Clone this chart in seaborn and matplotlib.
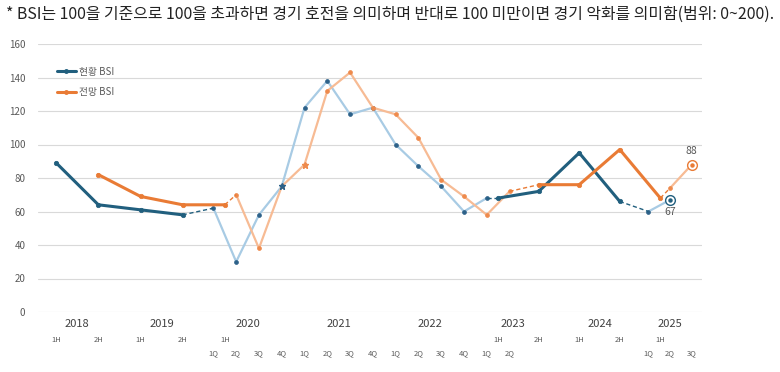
import matplotlib
matplotlib.use("Agg")
import matplotlib.pyplot as plt
import matplotlib.transforms as mtransforms
from matplotlib.lines import Line2D
import seaborn as sns

# ---- periods on the x axis ----
half_a = ['2018 1H', '2018 2H', '2019 1H', '2019 2H', '2020 1H']
quarters_a = ['2020 1Q', '2020 2Q', '2020 3Q', '2020 4Q',
              '2021 1Q', '2021 2Q', '2021 3Q', '2021 4Q',
              '2022 1Q', '2022 2Q', '2022 3Q', '2022 4Q',
              '2023 1Q', '2023 2Q']
half_b = ['2023 1H', '2023 2H', '2024 1H', '2024 2H', '2025 1H']
quarters_b = ['2025 1Q', '2025 2Q', '2025 3Q']
years = ['2018', '2019', '2020', '2021', '2022', '2023', '2024', '2025']

# ---- 현황 BSI (current) ----
cur_half_a_p = half_a[:4]
cur_half_a = [89, 64, 61, 58]
cur_qtr_a_p = quarters_a[:13]
cur_qtr_a = [62, 30, 58, 75, 122, 138, 118, 122, 100, 87, 75, 60, 68]
cur_half_b_p = half_b[:4]
cur_half_b = [68, 72, 95, 66]
cur_qtr_b_p = quarters_b[:2]
cur_qtr_b = [60, 67]

# ---- 전망 BSI (outlook) ----
exp_half_a_p = half_a[1:]
exp_half_a = [82, 69, 64, 64]
exp_qtr_a_p = quarters_a[1:]
exp_qtr_a = [70, 38, 75, 88, 132, 143, 122, 118, 104, 79, 69, 58, 72]
exp_half_b_p = half_b[1:]
exp_half_b = [76, 76, 97, 68]
exp_qtr_b_p = quarters_b[1:]
exp_qtr_b = [74, 88]

TEAL = '#215f7e'
ORANGE = '#e97b35'
LIGHT_BLUE = '#a8cbe4'
LIGHT_ORANGE = '#f7bb94'
GREY = '#595959'

# x layout: quarters are 1 unit apart, halves a bit less than 2
pos = {}
for i, p in enumerate(reversed(half_a)):
    pos[p] = 0.5 - 1.85 * i
for i, p in enumerate(quarters_a):
    pos[p] = float(i)
for i, p in enumerate(half_b):
    pos[p] = 12.5 + 1.78 * i
for i, p in enumerate(quarters_b):
    pos[p] = 19.1 + 0.95 * i


def xs(periods):
    return [pos[p] for p in periods]


def draw(ax, periods, values, color, lw, mcolor=None, ms=3.2, z=3):
    mcolor = mcolor or color
    sns.lineplot(x=xs(periods), y=values, ax=ax, color=color, linewidth=lw,
                 marker='o', markersize=ms, markerfacecolor=mcolor,
                 markeredgecolor=mcolor, markeredgewidth=0.5,
                 sort=False, legend=False, zorder=z)


def bridge(ax, p0, v0, p1, v1, color):
    sns.lineplot(x=[pos[p0], pos[p1]], y=[v0, v1], ax=ax, color=color,
                 linewidth=1.0, linestyle=(0, (3, 2)), sort=False,
                 legend=False, zorder=2)


sns.set_style("white")
plt.rcParams['font.family'] = ['Noto Sans CJK KR', 'DejaVu Sans']

fig = plt.figure(figsize=(7.8, 3.72), dpi=100)
ax = fig.add_axes([38 / 780, 60 / 372, 664 / 780, 268 / 372])

# light quarterly lines first
draw(ax, cur_qtr_a_p, cur_qtr_a, LIGHT_BLUE, 1.6, mcolor='#2d6189', ms=2.8, z=2)
draw(ax, exp_qtr_a_p, exp_qtr_a, LIGHT_ORANGE, 1.6, mcolor='#ee8a4c', ms=2.8, z=2)
draw(ax, cur_qtr_b_p, cur_qtr_b, LIGHT_BLUE, 1.6, mcolor='#2d6189', ms=2.8, z=2)
draw(ax, exp_qtr_b_p, exp_qtr_b, LIGHT_ORANGE, 1.6, mcolor='#ee8a4c', ms=2.8, z=2)

# thick half-year lines
draw(ax, cur_half_a_p, cur_half_a, TEAL, 2.2)
draw(ax, exp_half_a_p, exp_half_a, ORANGE, 2.2)
draw(ax, cur_half_b_p, cur_half_b, TEAL, 2.2)
draw(ax, exp_half_b_p, exp_half_b, ORANGE, 2.2)

# dashed joins between half-year and quarterly series
bridge(ax, cur_half_a_p[-1], cur_half_a[-1], cur_qtr_a_p[0], cur_qtr_a[0], TEAL)
bridge(ax, cur_qtr_a_p[-1], cur_qtr_a[-1], cur_half_b_p[0], cur_half_b[0], TEAL)
bridge(ax, cur_half_b_p[-1], cur_half_b[-1], cur_qtr_b_p[0], cur_qtr_b[0], TEAL)
bridge(ax, exp_half_a_p[-1], exp_half_a[-1], exp_qtr_a_p[0], exp_qtr_a[0], ORANGE)
bridge(ax, exp_qtr_a_p[-1], exp_qtr_a[-1], exp_half_b_p[0], exp_half_b[0], ORANGE)
bridge(ax, exp_half_b_p[-1], exp_half_b[-1], exp_qtr_b_p[0], exp_qtr_b[0], ORANGE)

# star markers
ax.plot(pos['2020 4Q'], cur_qtr_a[3], marker='*', ms=5, color='#2d6189', zorder=4)
ax.plot(pos['2021 1Q'], exp_qtr_a[3], marker='*', ms=5, color='#ee8a4c', zorder=4)

# latest points: ringed markers with labels
for p, v, c, off in [(cur_qtr_b_p[-1], cur_qtr_b[-1], TEAL, -9),
                     (exp_qtr_b_p[-1], exp_qtr_b[-1], ORANGE, 10)]:
    ax.plot(pos[p], v, marker='o', ms=7, mfc='white', mec=c, mew=1.0, zorder=5)
    ax.plot(pos[p], v, marker='o', ms=2.2, color=c, zorder=6)
    ax.annotate(str(v), (pos[p], v), xytext=(0, off), textcoords='offset points',
                ha='center', va='center', fontsize=7.5, color=GREY)

ax.set_xlim(-7.7, 21.45)
ax.set_ylim(0, 160)
ax.set_yticks(range(0, 161, 20))
ax.set_xticks([])
ax.yaxis.grid(True, color='#d9d9d9', linewidth=0.8)
ax.set_axisbelow(True)
ax.tick_params(axis='y', length=0, pad=9, labelsize=7, labelcolor=GREY)
sns.despine(ax=ax, left=True, bottom=True)

# x labels in three rows
trans = mtransforms.blended_transform_factory(ax.transData, ax.transAxes)
for yr in years:
    ps = [pos[p] for p in pos if p.startswith(yr)]
    ax.text((min(ps) + max(ps)) / 2, -0.045, yr, transform=trans, ha='center',
            va='center', fontsize=8, color='#404040')
for p in half_a + half_b:
    ax.text(pos[p], -0.104, p.split()[1], transform=trans, ha='center',
            va='center', fontsize=5.5, color=GREY)
for p in quarters_a + quarters_b:
    ax.text(pos[p], -0.153, p.split()[1], transform=trans, ha='center',
            va='center', fontsize=5.5, color=GREY)

handles = [Line2D([], [], color=TEAL, lw=2.2, marker='o', ms=2.5),
           Line2D([], [], color=ORANGE, lw=2.2, marker='o', ms=2.5)]
leg = ax.legend(handles, ['현황 BSI', '전망 BSI'], loc='upper left',
                bbox_to_anchor=(0.028, 0.915), frameon=False, fontsize=7,
                handlelength=2.0, handletextpad=0.3, labelspacing=1.1,
                borderaxespad=0, borderpad=0)
for t in leg.get_texts():
    t.set_color(GREY)

fig.text(0.008, 0.962,
         '* BSI는 100을 기준으로 100을 초과하면 경기 호전을 의미하며 반대로 100 미만이면 경기 악화를 의미함(범위: 0~200).',
         ha='left', va='center', fontsize=11.45, color='#222222')

fig.savefig('out.png', dpi=100)
plt.close(fig)
